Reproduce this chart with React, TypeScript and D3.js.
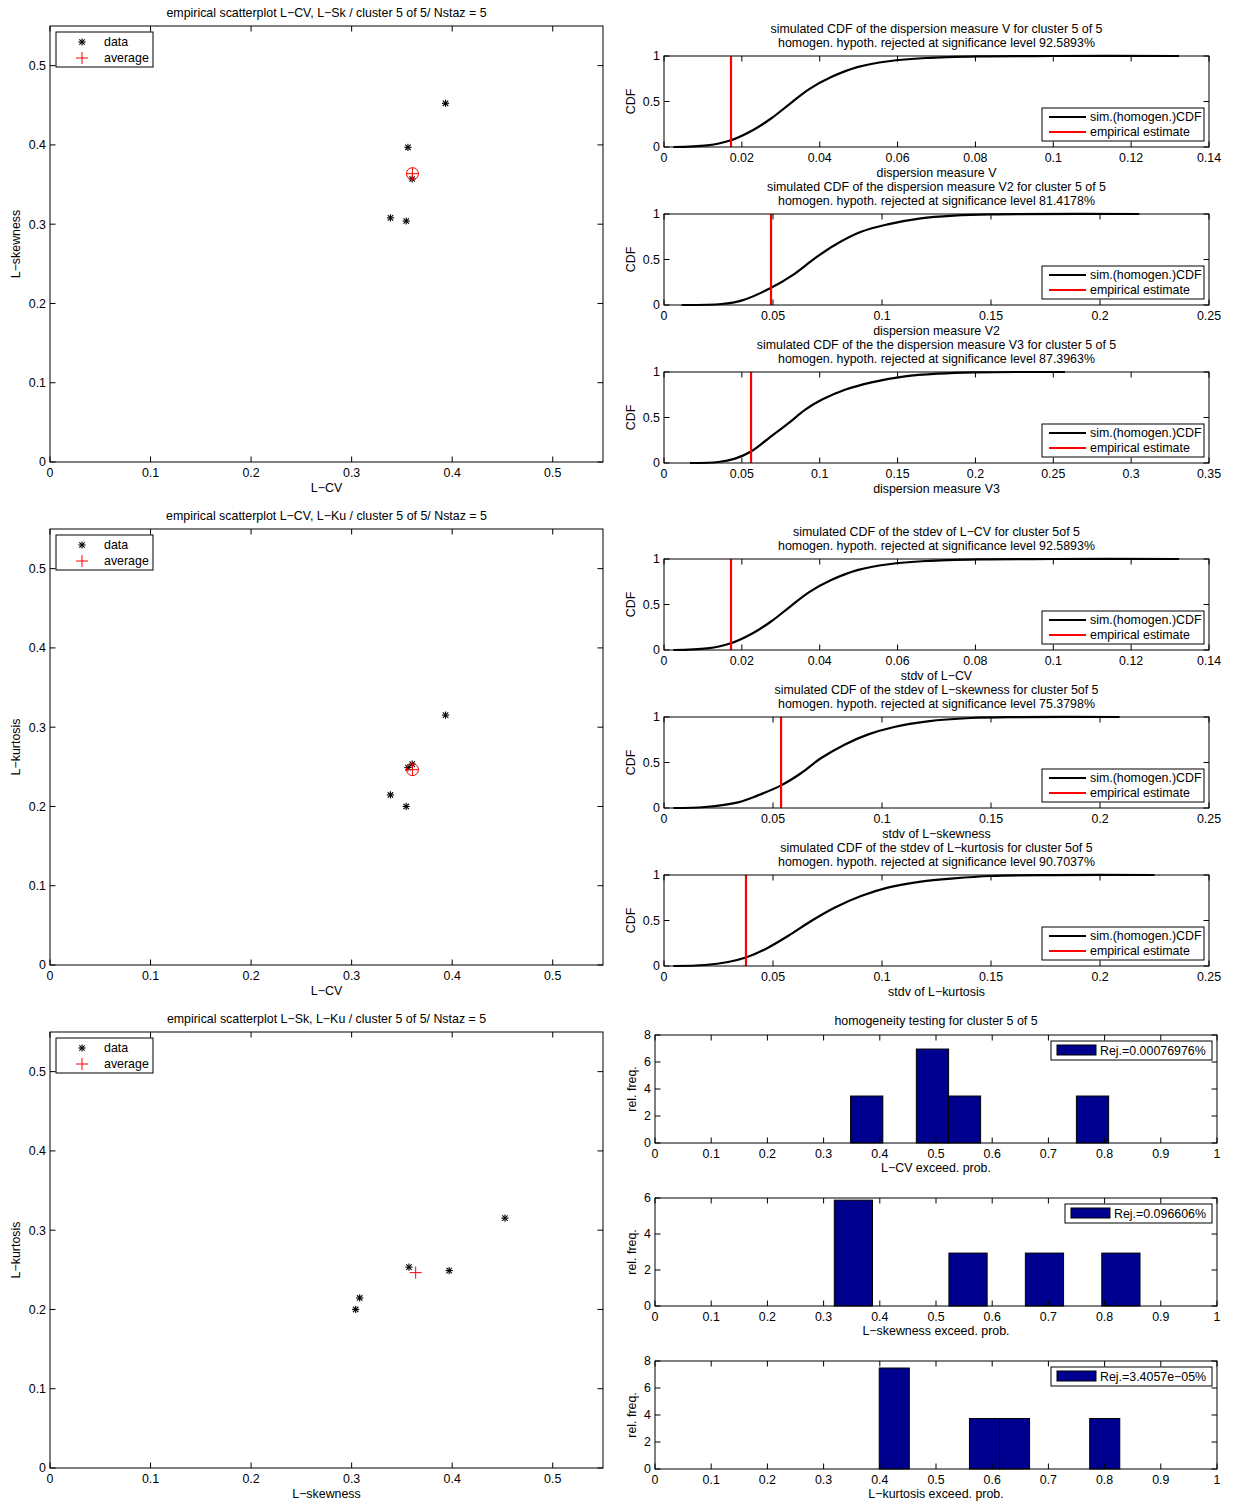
import React from "react";
import * as d3 from "d3";

const FONT = "'Liberation Sans', Arial, Helvetica, sans-serif";

// ---- Scatter data (5 stations) ----
const lcv = [0.3934, 0.356, 0.3602, 0.3386, 0.3543];
const lsk = [0.4525, 0.397, 0.357, 0.308, 0.304];
const lku = [0.3152, 0.249, 0.2534, 0.2145, 0.2];
const scatterTicks = [0, 0.1, 0.2, 0.3, 0.4, 0.5];

// ---- Simulated CDF curves ----
const cdfVx = [0.0024, 0.0111, 0.0172, 0.0228, 0.0276, 0.0325, 0.0373, 0.0431, 0.0499, 0.0577, 0.0673, 0.0809, 0.1, 0.1323];
const cdfVy = [0, 0.018, 0.075, 0.185, 0.316, 0.48, 0.636, 0.771, 0.88, 0.942, 0.978, 0.996, 1, 1];
const cdfV2x = [0.0081, 0.0264, 0.0355, 0.0489, 0.0599, 0.069, 0.0782, 0.0904, 0.1026, 0.1178, 0.133, 0.15, 0.218];
const cdfV2y = [0, 0.011, 0.048, 0.186, 0.343, 0.509, 0.657, 0.804, 0.886, 0.952, 0.982, 0.996, 1];
const cdfV3x = [0.0167, 0.0349, 0.0456, 0.0559, 0.067, 0.0798, 0.0905, 0.1012, 0.1162, 0.1333, 0.1547, 0.1761, 0.1997, 0.2575];
const cdfV3y = [0, 0.011, 0.048, 0.126, 0.269, 0.435, 0.583, 0.694, 0.804, 0.886, 0.952, 0.982, 0.996, 1];
const cdfSkx = [0.0043, 0.0188, 0.034, 0.0431, 0.0535, 0.063, 0.0721, 0.0828, 0.0934, 0.1056, 0.1209, 0.1407, 0.1636, 0.209];
const cdfSky = [0, 0.011, 0.062, 0.139, 0.246, 0.385, 0.549, 0.696, 0.806, 0.89, 0.952, 0.989, 0.999, 1];
const cdfKux = [0.0043, 0.0188, 0.0294, 0.0375, 0.0477, 0.0569, 0.0675, 0.0782, 0.0904, 0.1026, 0.1178, 0.133, 0.15, 0.1793, 0.225];
const cdfKuy = [0, 0.011, 0.044, 0.093, 0.201, 0.33, 0.495, 0.641, 0.769, 0.861, 0.927, 0.963, 0.989, 0.999, 1];

// empirical estimates
const empirical = [0.01721, 0.0491, 0.0559, 0.01721, 0.0537, 0.0376];
const sigLevels = ["92.5893", "81.4178", "87.3963", "92.5893", "75.3798", "90.7037"];

const ticks014 = [0, 0.02, 0.04, 0.06, 0.08, 0.1, 0.12, 0.14];
const ticks025 = [0, 0.05, 0.1, 0.15, 0.2, 0.25];
const ticks035 = [0, 0.05, 0.1, 0.15, 0.2, 0.25, 0.3, 0.35];
const cdfYTicks = [0, 0.5, 1];

// ---- Histograms ----
const hist1Left = [0.348, 0.465, 0.522, 0.7498];
const hist1Width = 0.0574;
const hist1Height = [3.48, 6.96, 3.48, 3.48];
const hist2Left = [0.319, 0.523, 0.659, 0.795];
const hist2Width = 0.068;
const hist2Height = [5.88, 2.94, 2.94, 2.94];
const hist3Left = [0.399, 0.5595, 0.613, 0.7735];
const hist3Width = 0.0535;
const hist3Height = [7.48, 3.74, 3.74, 3.74];
const histXTicks = [0, 0.1, 0.2, 0.3, 0.4, 0.5, 0.6, 0.7, 0.8, 0.9, 1];
const hist8Ticks = [0, 2, 4, 6, 8];
const hist6Ticks = [0, 2, 4, 6];
const rejLabels = ["Rej.=0.00076976%", "Rej.=0.096606%", "Rej.=3.4057e\u221205%"];

const fmt = (v: number) => String(+v.toFixed(4));
const TL = 5.5;

function Frame({ xs, ys, xTicks, yTicks }: any) {
  const [x0, x1] = xs.range();
  const [y0, y1] = ys.range();
  return (
    <g>
      <rect x={x0} y={y1} width={x1 - x0} height={y0 - y1} fill="none" stroke="black" strokeWidth={1} />
      {xTicks.map((t: number) => (
        <g key={"x" + t}>
          <line x1={xs(t)} x2={xs(t)} y1={y0} y2={y0 - TL} stroke="black" />
          <line x1={xs(t)} x2={xs(t)} y1={y1} y2={y1 + TL} stroke="black" />
          <text x={xs(t)} y={y0 + 10.5} textAnchor="middle" dy="0.35em">{fmt(t)}</text>
        </g>
      ))}
      {yTicks.map((t: number) => (
        <g key={"y" + t}>
          <line x1={x0} x2={x0 + TL} y1={ys(t)} y2={ys(t)} stroke="black" />
          <line x1={x1} x2={x1 - TL} y1={ys(t)} y2={ys(t)} stroke="black" />
          <text x={x0 - 4} y={ys(t)} textAnchor="end" dy="0.35em">{fmt(t)}</text>
        </g>
      ))}
    </g>
  );
}

function Star({ x, y }: { x: number; y: number }) {
  const r = 3.6, d = 2.7;
  return (
    <g stroke="black" strokeWidth={1.1}>
      <line x1={x - r} x2={x + r} y1={y} y2={y} />
      <line x1={x} x2={x} y1={y - r} y2={y + r} />
      <line x1={x - d} x2={x + d} y1={y - d} y2={y + d} />
      <line x1={x - d} x2={x + d} y1={y + d} y2={y - d} />
    </g>
  );
}

function Plus({ x, y, r = 6 }: { x: number; y: number; r?: number }) {
  return (
    <g stroke="red" strokeWidth={1}>
      <line x1={x - r} x2={x + r} y1={y} y2={y} />
      <line x1={x} x2={x} y1={y - r} y2={y + r} />
    </g>
  );
}

function ScatterPanel({ top, xv, yv, title, xlabel, ylabel, circle }: any) {
  const left = 50, right = 603, bottom = top + 436;
  const xs = d3.scaleLinear().domain([0, 0.55]).range([left, right]);
  const ys = d3.scaleLinear().domain([0, 0.55]).range([bottom, top]);
  const mx = d3.mean(xv) as number;
  const my = d3.mean(yv) as number;
  return (
    <g>
      <text x={(left + right) / 2} y={top - 13} textAnchor="middle" dy="0.35em">{title}</text>
      {xv.map((v: number, i: number) => (
        <Star key={i} x={xs(v)} y={ys(yv[i])} />
      ))}
      <Plus x={xs(mx)} y={ys(my)} />
      {circle && <circle cx={xs(mx)} cy={ys(my)} r={6} fill="none" stroke="red" strokeWidth={1} />}
      <Frame xs={xs} ys={ys} xTicks={scatterTicks} yTicks={scatterTicks} />
      <text x={(left + right) / 2} y={bottom + 26} textAnchor="middle" dy="0.35em">{xlabel}</text>
      <text transform={`translate(16,${(top + bottom) / 2}) rotate(-90)`} textAnchor="middle" dy="0.35em">{ylabel}</text>
      <g>
        <rect x={56} y={top + 6} width={97} height={35} fill="white" stroke="black" strokeWidth={1} />
        <Star x={82} y={top + 16} />
        <text x={104} y={top + 16} dy="0.35em">data</text>
        <Plus x={82} y={top + 32} />
        <text x={104} y={top + 32} dy="0.35em">average</text>
      </g>
    </g>
  );
}

function CDFPanel({ top, xmax, xTicks, cx, cy, emp, title1, title2, xlabel }: any) {
  const left = 664, right = 1209, bottom = top + 91;
  const xs = d3.scaleLinear().domain([0, xmax]).range([left, right]);
  const ys = d3.scaleLinear().domain([0, 1]).range([bottom, top]);
  const pts: [number, number][] = cx.map((v: number, i: number) => [v, cy[i]]);
  const line = d3.line<[number, number]>().x((d) => xs(d[0])).y((d) => ys(d[1])).curve(d3.curveCatmullRom.alpha(0.5));
  const lx = 1042, ly = top + 52;
  return (
    <g>
      <text x={(left + right) / 2} y={top - 27} textAnchor="middle" dy="0.35em">{title1}</text>
      <text x={(left + right) / 2} y={top - 13} textAnchor="middle" dy="0.35em">{title2}</text>
      <path d={line(pts) as string} fill="none" stroke="black" strokeWidth={2.2} />
      <line x1={xs(emp)} x2={xs(emp)} y1={ys(0)} y2={ys(1)} stroke="red" strokeWidth={2.2} />
      <Frame xs={xs} ys={ys} xTicks={xTicks} yTicks={cdfYTicks} />
      <text x={(left + right) / 2} y={bottom + 26} textAnchor="middle" dy="0.35em">{xlabel}</text>
      <text transform={`translate(631,${(top + bottom) / 2}) rotate(-90)`} textAnchor="middle" dy="0.35em">CDF</text>
      <g>
        <rect x={lx} y={ly} width={162} height={33} fill="white" stroke="black" strokeWidth={1} />
        <line x1={lx + 7} x2={lx + 44} y1={ly + 9} y2={ly + 9} stroke="black" strokeWidth={2.2} />
        <text x={lx + 48} y={ly + 9} dy="0.35em">sim.(homogen.)CDF</text>
        <line x1={lx + 7} x2={lx + 44} y1={ly + 24} y2={ly + 24} stroke="red" strokeWidth={2.2} />
        <text x={lx + 48} y={ly + 24} dy="0.35em">empirical estimate</text>
      </g>
    </g>
  );
}

function HistPanel({ top, ymax, yTicks, lefts, width, heights, label, legendX, title, xlabel }: any) {
  const left = 655, right = 1217, bottom = top + 108;
  const xs = d3.scaleLinear().domain([0, 1]).range([left, right]);
  const ys = d3.scaleLinear().domain([0, ymax]).range([bottom, top]);
  return (
    <g>
      {title && <text x={(left + right) / 2} y={top - 14} textAnchor="middle" dy="0.35em">{title}</text>}
      {lefts.map((l: number, i: number) => (
        <rect key={i} x={xs(l)} y={ys(heights[i])} width={xs(l + width) - xs(l)} height={ys(0) - ys(heights[i])}
          fill="#00008F" stroke="black" strokeWidth={1} />
      ))}
      <Frame xs={xs} ys={ys} xTicks={histXTicks} yTicks={yTicks} />
      <text x={(left + right) / 2} y={bottom + 25} textAnchor="middle" dy="0.35em">{xlabel}</text>
      <text transform={`translate(632,${(top + bottom) / 2}) rotate(-90)`} textAnchor="middle" dy="0.35em">rel. freq.</text>
      <g>
        <rect x={legendX} y={top + 6} width={1212 - legendX} height={19} fill="white" stroke="black" strokeWidth={1} />
        <rect x={legendX + 6} y={top + 10} width={39} height={10} fill="#00008F" stroke="black" strokeWidth={1} />
        <text x={legendX + 49} y={top + 15.5} dy="0.35em">{label}</text>
      </g>
    </g>
  );
}

export default function App() {
  return (
    <svg width={1236} height={1503} style={{ display: "block", position: "absolute", left: 0, top: 0 }}
      fontFamily={FONT} fontSize={12.4}>
      <rect width={1236} height={1503} fill="white" />
      <ScatterPanel top={26} xv={lcv} yv={lsk} circle
        title={"empirical scatterplot L\u2212CV, L\u2212Sk / cluster 5 of 5/ Nstaz = 5"}
        xlabel={"L\u2212CV"} ylabel={"L\u2212skewness"} />
      <ScatterPanel top={529} xv={lcv} yv={lku} circle
        title={"empirical scatterplot L\u2212CV, L\u2212Ku / cluster 5 of 5/ Nstaz = 5"}
        xlabel={"L\u2212CV"} ylabel={"L\u2212kurtosis"} />
      <ScatterPanel top={1032} xv={lsk} yv={lku} circle={false}
        title={"empirical scatterplot L\u2212Sk, L\u2212Ku / cluster 5 of 5/ Nstaz = 5"}
        xlabel={"L\u2212skewness"} ylabel={"L\u2212kurtosis"} />

      <CDFPanel top={56} xmax={0.14} xTicks={ticks014} cx={cdfVx} cy={cdfVy} emp={empirical[0]}
        title1="simulated CDF of the dispersion measure V for cluster 5 of 5"
        title2={`homogen. hypoth. rejected at significance level ${sigLevels[0]}%`}
        xlabel="dispersion measure V" />
      <CDFPanel top={214} xmax={0.25} xTicks={ticks025} cx={cdfV2x} cy={cdfV2y} emp={empirical[1]}
        title1="simulated CDF of the dispersion measure V2 for cluster 5 of 5"
        title2={`homogen. hypoth. rejected at significance level ${sigLevels[1]}%`}
        xlabel="dispersion measure V2" />
      <CDFPanel top={372} xmax={0.35} xTicks={ticks035} cx={cdfV3x} cy={cdfV3y} emp={empirical[2]}
        title1="simulated CDF of the the dispersion measure V3 for cluster 5 of 5"
        title2={`homogen. hypoth. rejected at significance level ${sigLevels[2]}%`}
        xlabel="dispersion measure V3" />
      <CDFPanel top={559} xmax={0.14} xTicks={ticks014} cx={cdfVx} cy={cdfVy} emp={empirical[3]}
        title1={"simulated CDF of the stdev of L\u2212CV for cluster 5of 5"}
        title2={`homogen. hypoth. rejected at significance level ${sigLevels[3]}%`}
        xlabel={"stdv of L\u2212CV"} />
      <CDFPanel top={717} xmax={0.25} xTicks={ticks025} cx={cdfSkx} cy={cdfSky} emp={empirical[4]}
        title1={"simulated CDF of the stdev of L\u2212skewness for cluster 5of 5"}
        title2={`homogen. hypoth. rejected at significance level ${sigLevels[4]}%`}
        xlabel={"stdv of L\u2212skewness"} />
      <CDFPanel top={875} xmax={0.25} xTicks={ticks025} cx={cdfKux} cy={cdfKuy} emp={empirical[5]}
        title1={"simulated CDF of the stdev of L\u2212kurtosis for cluster 5of 5"}
        title2={`homogen. hypoth. rejected at significance level ${sigLevels[5]}%`}
        xlabel={"stdv of L\u2212kurtosis"} />

      <HistPanel top={1035} ymax={8} yTicks={hist8Ticks} lefts={hist1Left} width={hist1Width} heights={hist1Height}
        label={rejLabels[0]} legendX={1051} title="homogeneity testing for cluster 5 of 5"
        xlabel={"L\u2212CV exceed. prob."} />
      <HistPanel top={1198} ymax={6} yTicks={hist6Ticks} lefts={hist2Left} width={hist2Width} heights={hist2Height}
        label={rejLabels[1]} legendX={1065} xlabel={"L\u2212skewness exceed. prob."} />
      <HistPanel top={1361} ymax={8} yTicks={hist8Ticks} lefts={hist3Left} width={hist3Width} heights={hist3Height}
        label={rejLabels[2]} legendX={1051} xlabel={"L\u2212kurtosis exceed. prob."} />
    </svg>
  );
}
